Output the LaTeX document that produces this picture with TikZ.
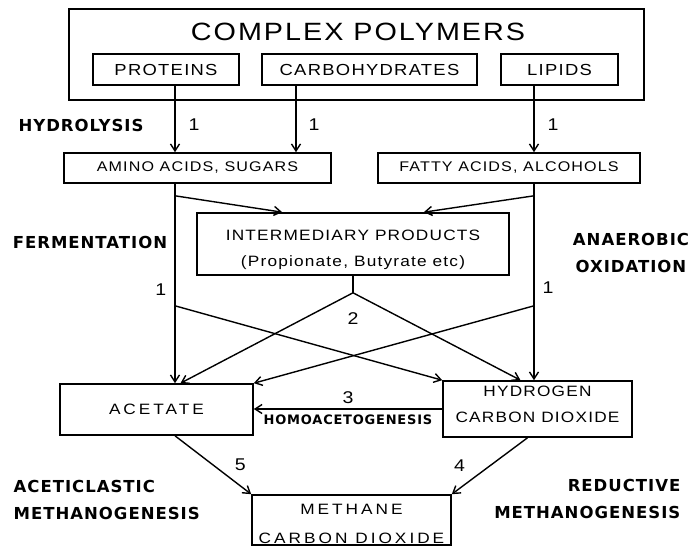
\documentclass[tikz,border=0pt]{standalone}
\usepackage{fontspec}
\setmainfont{Liberation Sans}
\newfontfamily\plotfont[FakeStretch=1.15, LetterSpace=8]{Liberation Sans}
\newfontfamily\plotwide[FakeStretch=1.15, LetterSpace=20]{Liberation Sans}
\newfontfamily\stagefont[LetterSpace=6]{DejaVu Sans}
\usetikzlibrary{positioning, calc, arrows.meta}

\begin{document}
\begin{tikzpicture}[
    x = 1pt, y = -1pt,
    > = {Straight Barb[length=7pt, width=9pt]},
    line width = 1.4pt,
    box/.style = {rectangle, draw, line width = 1.6pt, inner sep = 0pt, align = center},
    part/.style = {font = \plotfont\fontsize{16}{20}\selectfont},
    mono/.style = {font = \plotfont\fontsize{14}{18}\selectfont},
    pair/.style = {font = \plotfont\fontsize{15}{26}\selectfont},
    wide/.style = {font = \plotwide\fontsize{15}{29}\selectfont},
    stage/.style = {font = \stagefont\bfseries\fontsize{16.5}{27}\selectfont, inner sep = 0pt},
    minor/.style = {font = \stagefont\bfseries\fontsize{13}{15}\selectfont, inner sep = 0pt},
    num/.style = {font = \plotfont\fontsize{17}{20}\selectfont, inner sep = 1pt}
]
\useasboundingbox (0,0) rectangle (689,546);

% Boxes
\node[box, minimum width = 575pt, minimum height = 91pt] (poly) at (356.5,54.5) {};
\node[font = \plotfont\fontsize{25}{28}\selectfont] (title) at (358,32) {COMPLEX POLYMERS};

\node[box, part, minimum width = 146pt, minimum height = 31pt] (prot) at (166,69.5)   {PROTEINS};
\node[box, part, minimum width = 215pt, minimum height = 31pt] (carb) at (369.5,69.5) {CARBOHYDRATES};
\node[box, part, minimum width = 117pt, minimum height = 31pt] (lip)  at (559.5,69.5) {LIPIDS};

\node[box, mono, minimum width = 267pt, minimum height = 30pt] (amino) at (197.5,168) {AMINO ACIDS, SUGARS};
\node[box, mono, minimum width = 262pt, minimum height = 30pt] (fatty) at (509,168)   {FATTY ACIDS, ALCOHOLS};

\node[box, pair, minimum width = 312pt, minimum height = 62pt] (inter) at (353,244)
    {\rule{0pt}{22pt}INTERMEDIARY PRODUCTS\\(Propionate, Butyrate etc)};

\node[box, wide, minimum width = 193pt, minimum height = 51pt] (acet)  at (156.5,409.5) {ACETATE};
\node[box, pair, minimum width = 189pt, minimum height = 56pt] (hydro) at (537.5,409)
    {HYDROGEN\\CARBON DIOXIDE\rule[-10pt]{0pt}{0pt}};
\node[box, wide, minimum width = 199pt, minimum height = 50pt] (meth)  at (351.5,520)
    {\rule{0pt}{19pt}METHANE\\CARBON DIOXIDE};

% Stages
\node[stage] (hydrolysis) at (81,125) {HYDROLYSIS};
\node[stage] (ferment)    at (90,242) {FERMENTATION};
\node[stage, align = center] (anaerobic) at (631,253) {ANAEROBIC\\OXIDATION};
\node[stage, align = left, anchor = west]  (aceticlastic) at (13,500)  {ACETICLASTIC\\METHANOGENESIS};
\node[stage, align = right, anchor = east] (reductive)    at (681,499) {REDUCTIVE\\METHANOGENESIS};

% Columns and forks
\coordinate (colA) at (175,0);
\coordinate (colB) at (296,0);
\coordinate (colC) at (534,0);
\coordinate (forkA)  at ($(amino.south -| colA)+(0,12)$);
\coordinate (forkC)  at ($(fatty.south -| colC)+(0,12)$);
\coordinate (crossA) at ($(amino.south -| colA)+(0,122)$);
\coordinate (crossC) at ($(fatty.south -| colC)+(0,122)$);
\coordinate (forkI)  at ($(inter.south)+(0,17)$);

% Hydrolysis
\draw[->] (prot.south -| colA) -- (amino.north -| colA) node[num, pos = .59, right = 12pt] {1};
\draw[->] (carb.south -| colB) -- (amino.north -| colB) node[num, pos = .59, right = 11pt] {1};
\draw[->] (lip.south -| colC)  -- (fatty.north -| colC) node[num, pos = .59, right = 12pt] {1};

% Fermentation and oxidation
\draw[->] (amino.south -| colA) -- (acet.north -| colA)  node[num, pos = .53, left = 7pt]  {1};
\draw[->] (fatty.south -| colC) -- (hydro.north -| colC) node[num, pos = .53, right = 7pt] {1};
\draw[->] (forkA) -- ($(inter.north west)+(86,0)$);
\draw[->] (forkC) -- ($(inter.north east)+(-86,0)$);
\draw[->] (crossA) -- (hydro.north west);
\draw[->] (crossC) -- (acet.north east);

% Intermediary products
\draw (inter.south) -- (forkI);
\node[num, below = 18pt of forkI] (two) {2};
\draw[->] (forkI) -- ($(acet.north)+(24,0)$);
\draw[->] (forkI) -- ($(hydro.north)+(-17,0)$);

% Homoacetogenesis
\draw[->] (hydro.west) -- (hydro.west -| acet.east)
    node[num, midway, above = 4pt] {3}
    node[minor, midway, below = 5pt] {HOMOACETOGENESIS};

% Methanogenesis
\draw[->] (acet.south -| colA) -- (meth.north west) node[num, pos = .5, right = 20pt] {5};
\draw[->] ($(hydro.south)+(-10,0)$) -- (meth.north east) node[num, pos = .5, left = 23pt] {4};

\end{tikzpicture}
\end{document}
